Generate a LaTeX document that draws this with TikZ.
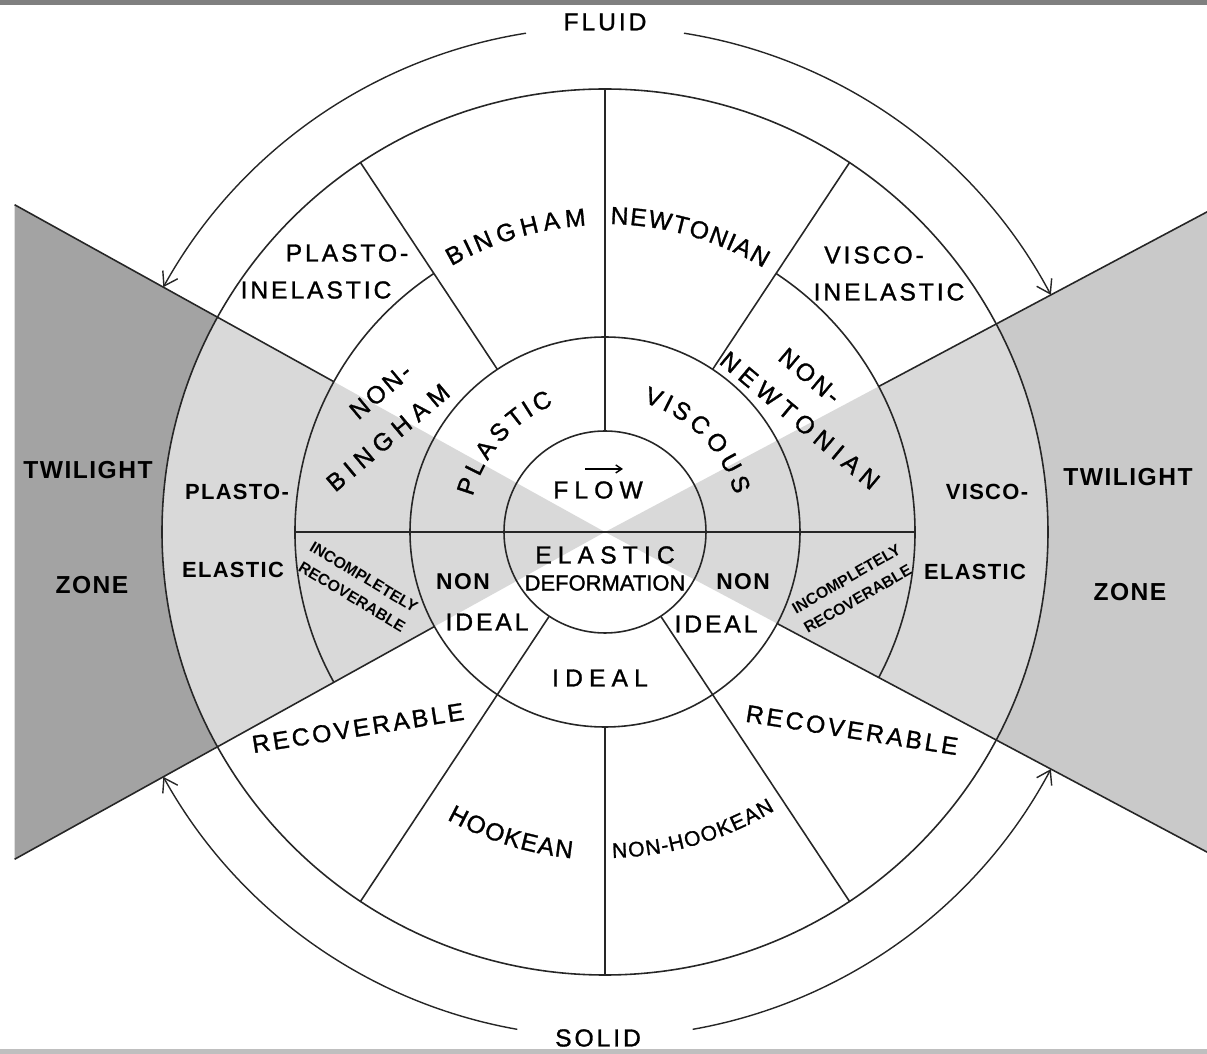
\documentclass[tikz,border=0pt]{standalone}
\usepackage{fontspec}
\setmainfont{Liberation Sans}
\newfontfamily\lblfont[LetterSpace=12, FakeBold=1.2]{Liberation Sans}
\newfontfamily\widefont[LetterSpace=25, FakeBold=1.2]{Liberation Sans}
\newfontfamily\plainfont[FakeBold=1.2]{Liberation Sans}
\newfontfamily\heavyfont[LetterSpace=6]{Liberation Sans}
\usetikzlibrary{arrows.meta,decorations.text}
\definecolor{duskdark}{gray}{0.64}
\definecolor{duskmid}{gray}{0.79}
\definecolor{dusklight}{gray}{0.85}
\newcommand\arcfont{\plainfont\fontsize{14}{16}\selectfont}
\newcommand\arcfontsm{\plainfont\fontsize{12}{14}\selectfont}

\begin{document}
\begin{tikzpicture}[x=0.02cm, y=0.02cm,
  rim/.style={line width=0.9pt, draw=black!85},
  lab/.style={font=\lblfont\fontsize{14}{16}\selectfont, inner sep=0pt},
  widelab/.style={font=\widefont\fontsize{14}{16}\selectfont, inner sep=0pt},
  pairlab/.style={font=\widefont\fontsize{14}{23}\selectfont, inner sep=0pt, align=left},
  boldlab/.style={font=\heavyfont\bfseries\fontsize{#1}{15}\selectfont, inner sep=0pt},
  boldlab/.default=14,
  tinylab/.style={font=\bfseries\fontsize{9}{13}\selectfont, inner sep=0pt, align=center, rotate=#1},
  arcwords/.style={decorate, decoration={text effects along path, text={#1},
      text effects/.cd, text along path, fit text to path}},
  arr/.style={line width=0.8pt, draw=black!85, -{Straight Barb[length=2.6mm,width=3.4mm]}}
]
  \useasboundingbox (-605,-522) rectangle (602,532);
  % scan edges
  \fill[black!50] (-605,527) rectangle (602,532);
  \fill[black!25] (-605,-517) rectangle (602,-522);

  % twilight zones
  \fill[duskdark] (151:675) -- (151:443) arc[start angle=151, end angle=209, radius=443] -- (209:675) -- cycle;
  \fill[duskmid] (28:682) -- (28:443) arc[start angle=28, end angle=-28, radius=443] -- (-28:682) -- cycle;
  \fill[dusklight] (0,0) -- (151:443) arc[start angle=151, end angle=209, radius=443] -- cycle;
  \fill[dusklight] (0,0) -- (-28:443) arc[start angle=-28, end angle=28, radius=443] -- cycle;

  % rings
  \draw[rim] (0,0) circle[radius=101];
  \draw[rim] (0,0) circle[radius=195];
  \draw[rim] (0,0) circle[radius=443];
  \draw[rim] (123.5:310) arc[start angle=123.5, end angle=209, radius=310];
  \draw[rim] (56.5:310) arc[start angle=56.5, end angle=-28, radius=310];

  % spokes
  \draw[rim] (90:101) -- (90:443);
  \draw[rim] (270:195) -- (270:443);
  \draw[rim] (180:310) -- (0:310);
  \draw[rim] (123.5:195) -- (123.5:443);
  \draw[rim] (56.5:195) -- (56.5:443);
  \draw[rim] (236.5:101) -- (236.5:443);
  \draw[rim] (303.5:101) -- (303.5:443);
  \draw[rim] (151:310) -- (151:675);
  \draw[rim] (209:195) -- (209:675);
  \draw[rim] (28:310) -- (28:682);
  \draw[rim] (-28:195) -- (-28:682);

  % fluid / solid arrows
  \coordinate (fluidW) at (99:505);
  \coordinate (fluidE) at (81:505);
  \coordinate (solidW) at (260:505);
  \coordinate (solidE) at (280:505);
  \draw[arr] (fluidW) arc[start angle=99, end angle=151, radius=505];
  \draw[arr] (fluidE) arc[start angle=81, end angle=28, radius=505];
  \draw[arr] (solidW) arc[start angle=260, end angle=209, radius=505];
  \draw[arr] (solidE) arc[start angle=280, end angle=332, radius=505];

  \node[lab] (fluid) at (0,510) {FLUID};
  \node[lab] (solid) at (-7,-506) {SOLID};

  % twilight zone labels
  \node[boldlab] (twiW) at (-517,62) {TWILIGHT};
  \node[boldlab] (zoneW) at (-513,-53) {ZONE};
  \node[boldlab] (twiE) at (523,55) {TWILIGHT};
  \node[boldlab] (zoneE) at (525,-60) {ZONE};

  % outer ring
  \node[boldlab=12.5] (plastoW) at (-368,40) {PLASTO-};
  \node[boldlab=12.5] (elasW) at (-372,-38) {ELASTIC};
  \node[boldlab=12.5] (viscoE) at (382,40) {VISCO-};
  \node[boldlab=12.5] (elasE) at (370,-40) {ELASTIC};
  \node[lab] (plastoN) at (-258,279) {PLASTO-};
  \node[lab] (inelW) at (-289,242) {INELASTIC};
  \node[lab] (viscoN) at (269,277) {VISCO-};
  \node[lab] (inelE) at (284,240) {INELASTIC};
  \node[lab] (recW) at (-247,-196) [rotate=9] {RECOVERABLE};
  \node[lab] (recE) at (247,-198) [rotate=-9] {RECOVERABLE};
  \begin{scope}[font=\arcfont]
    \path[arcwords={BINGHAM}] (120:307) arc[start angle=120, end angle=93.5, radius=307];
    \path[arcwords={NEWTONIAN}] (89:308) arc[start angle=89, end angle=59, radius=308];
    \path[arcwords={HOOKEAN}] (241.2:328) arc[start angle=241.2, end angle=264.2, radius=328];
    \path[arcwords={NON-HOOKEAN}, font=\arcfontsm] (271.3:326) arc[start angle=271.3, end angle=301.4, radius=326];
    \path[arcwords={PLASTIC}] (165:137) arc[start angle=165, end angle=112, radius=137];
    \path[arcwords={VISCOUS}] (73.5:135) arc[start angle=73.5, end angle=16, radius=135];
  \end{scope}

  % middle ring
  \node[pairlab, rotate=40] (nonB) at (-230,110) {{\lblfont\hspace*{1.28cm}NON-}\\BINGHAM};
  \node[pairlab, rotate=-40] (nonN) at (208,127) {{\lblfont\hspace*{0.85cm}NON-}\\NEWTONIAN};
  \node[tinylab=-31] (incW) at (-247,-55) {INCOMPLETELY\\RECOVERABLE};
  \node[tinylab=30] (incE) at (247,-57) {INCOMPLETELY\\RECOVERABLE};

  % inner ring
  \node[boldlab=13] (nonW) at (-142,-50) {NON};
  \node[lab] (idealW) at (-118,-90) {IDEAL};
  \node[boldlab=13] (nonE) at (138,-50) {NON};
  \node[lab] (idealE) at (111,-92) {IDEAL};
  \node[widelab] (ideal) at (-5,-146) {IDEAL};

  % core
  \node[widelab] (flow) at (-7,42) {FLOW};
  \draw[line width=0.8pt, -{Straight Barb[length=1.2mm,width=1.6mm]}]
    ([xshift=-0.26cm,yshift=0.24cm]flow.north) -- ([xshift=0.5cm,yshift=0.24cm]flow.north);
  \node[widelab] (elastic) at (0,-23) {ELASTIC};
  \node[inner sep=0pt, font=\plainfont\fontsize{12.5}{14}\selectfont] (deform) at (0,-51) {DEFORMATION};
\end{tikzpicture}
\end{document}
